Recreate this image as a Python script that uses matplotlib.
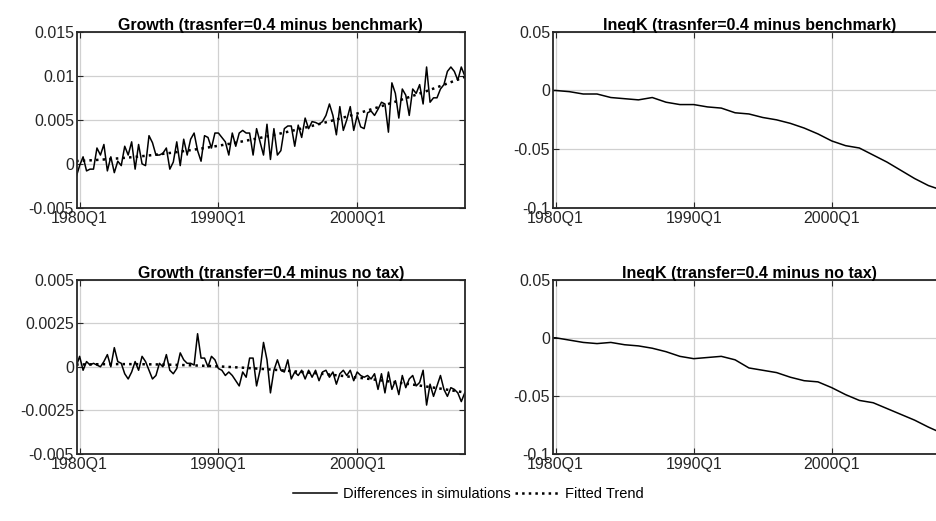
import numpy as np
import matplotlib.pyplot as plt
from matplotlib.lines import Line2D

plt.rcParams['font.family'] = ['Liberation Sans', 'DejaVu Sans']

# quarterly dates, 1979Q4 .. 2007Q4
quarters = np.arange(1979.75, 2007.76, 0.25)

growth_bench = np.array([
    -1.5,
    -0.2, 0.8, -0.8, -0.6,  -0.6, 1.8, 1.0, 2.2,  -0.8, 0.8, -1.0, 0.3,
    -0.2, 2.0, 1.0, 2.5,  -0.6, 2.2, 0.0, -0.2,  3.2, 2.4, 1.0, 1.0,
    1.2, 1.8, -0.6, 0.2,  2.5, -0.2, 2.8, 1.0,  2.8, 3.5, 1.5, 0.3,
    3.2, 3.0, 1.8, 3.5,  3.5, 3.0, 2.5, 1.0,  3.5, 2.0, 3.5, 3.8,
    3.5, 3.5, 1.0, 4.0,  2.5, 1.0, 4.5, 0.5,  4.0, 1.0, 1.5, 4.0,
    4.3, 4.3, 2.0, 4.4,  3.0, 5.2, 4.0, 4.8,  4.7, 4.5, 4.8, 5.5,
    6.8, 5.5, 3.3, 6.5,  3.8, 5.0, 6.5, 3.8,  5.5, 4.2, 4.0, 5.8,
    6.0, 5.5, 6.2, 7.0,  6.8, 3.6, 9.2, 8.0,  5.2, 8.5, 7.8, 5.5,
    8.5, 8.0, 9.0, 6.8,  11.0, 7.0, 7.5, 7.5,  8.5, 9.0, 10.5, 11.0,
    10.5, 9.5, 11.0, 10.0]) * 1e-3

growth_notax = np.array([
    0,
    6, -2, 3, 1,  2, 1, 0, 3,  7, 0, 11, 3,  2, -4, -7, -3,
    3, -2, 6, 3,  -2, -7, -5, 2,  0, 7, -2, -4,  -1, 8, 4, 2,
    2, 1, 19, 5,  5, 0, 6, 4,  -1, -2, -5, -3,  -5, -8, -11, -3,
    -6, 5, 5, -11,  -2, 14, 4, -15,  -2, 4, -2, -3,  4, -7, -3, -5,
    -2, -7, -2, -6,  -2, -8, -3, -2,  -6, -3, -10, -4,  -2, -5, -2, -8,
    -3, -5, -6, -5,  -7, -4, -13, -4,  -15, -3, -13, -8,  -16, -5, -12, -7,
    -5, -11, -9, -2,  -22, -10, -17, -11,  -5, -13, -17, -12,
    -13, -15, -20, -15]) * 1e-4

ineq_years = np.array([1979.75] + list(range(1980, 2008)) + [2007.75])
ineq_bench = np.array([0, 0, -1, -3, -3, -6, -7, -8, -6, -10, -12, -12, -14, -15,
                       -19, -20, -23, -25, -28, -32, -37, -43, -47, -49, -55,
                       -61, -68, -75, -81, -84]) * 1e-3
ineq_notax = np.array([0, 0, -2, -4, -5, -4, -6, -7, -9, -12, -16, -18, -17, -16,
                       -19, -26, -28, -30, -34, -37, -38, -43, -49, -54, -56,
                       -61, -66, -71, -77, -81]) * 1e-3

fig = plt.figure(figsize=(9.37, 5.21), dpi=100)
pos = {
    "tl": [0.082, 0.601, 0.414, 0.338],
    "tr": [0.590, 0.601, 0.420, 0.338],
    "bl": [0.082, 0.129, 0.414, 0.334],
    "br": [0.590, 0.129, 0.420, 0.334],
}


def style(ax, title, ylim, yticks, yticklabels, right_col=False):
    ax.set_xlim(1979.8, 2008.3 if right_col else 2007.75)
    ax.set_ylim(*ylim)
    ax.set_xticks([1980, 1990, 2000])
    ax.set_xticklabels(["1980Q1", "1990Q1", "2000Q1"])
    ax.set_yticks(yticks)
    ax.set_yticklabels(yticklabels)
    ax.tick_params(direction="in", labelsize=11.5, length=4, top=True, right=True,
                   color="#262626", labelcolor="#262626", pad=2)
    ax.grid(True, color="#d0d0d0", linewidth=0.9)
    ax.set_axisbelow(True)
    for s in ax.spines.values():
        s.set_linewidth(1.3)
        s.set_color("#262626")
    ax.set_title(title, fontsize=11.5, fontweight="bold", pad=1)


def trend(y):
    c = np.polyfit(quarters, y, 2)
    return np.polyval(c, quarters)


ax = fig.add_axes(pos["tl"])
ax.plot(quarters, growth_bench, color="black", lw=1.1)
ax.plot(quarters, trend(growth_bench), color="black", lw=1.8, ls=":")
style(ax, "Growth (trasnfer=0.4 minus benchmark)", (-0.005, 0.015),
      [-0.005, 0, 0.005, 0.01, 0.015], ["-0.005", "0", "0.005", "0.01", "0.015"])

ax = fig.add_axes(pos["bl"])
ax.plot(quarters, growth_notax, color="black", lw=1.1)
ax.plot(quarters, trend(growth_notax), color="black", lw=1.8, ls=":")
style(ax, "Growth (transfer=0.4 minus no tax)", (-0.005, 0.005),
      [-0.005, -0.0025, 0, 0.0025, 0.005], ["-0.005", "-0.0025", "0", "0.0025", "0.005"])

ax = fig.add_axes(pos["tr"])
ax.plot(ineq_years, ineq_bench, color="black", lw=1.1)
style(ax, "IneqK (trasnfer=0.4 minus benchmark)", (-0.1, 0.05),
      [-0.1, -0.05, 0, 0.05], ["-0.1", "-0.05", "0", "0.05"], right_col=True)

ax = fig.add_axes(pos["br"])
ax.plot(ineq_years, ineq_notax, color="black", lw=1.1)
style(ax, "IneqK (transfer=0.4 minus no tax)", (-0.1, 0.05),
      [-0.1, -0.05, 0, 0.05], ["-0.1", "-0.05", "0", "0.05"], right_col=True)

handles = [Line2D([], [], color="black", lw=1.1),
           Line2D([], [], color="black", lw=1.8, ls=":")]
fig.legend(handles, ["Differences in simulations", "Fitted Trend"], loc="center",
           bbox_to_anchor=(0.5, 0.052), ncol=2, frameon=False, fontsize=10.5,
           handlelength=3, columnspacing=0.3, handletextpad=0.4)

fig.savefig("out.png", dpi=100)
